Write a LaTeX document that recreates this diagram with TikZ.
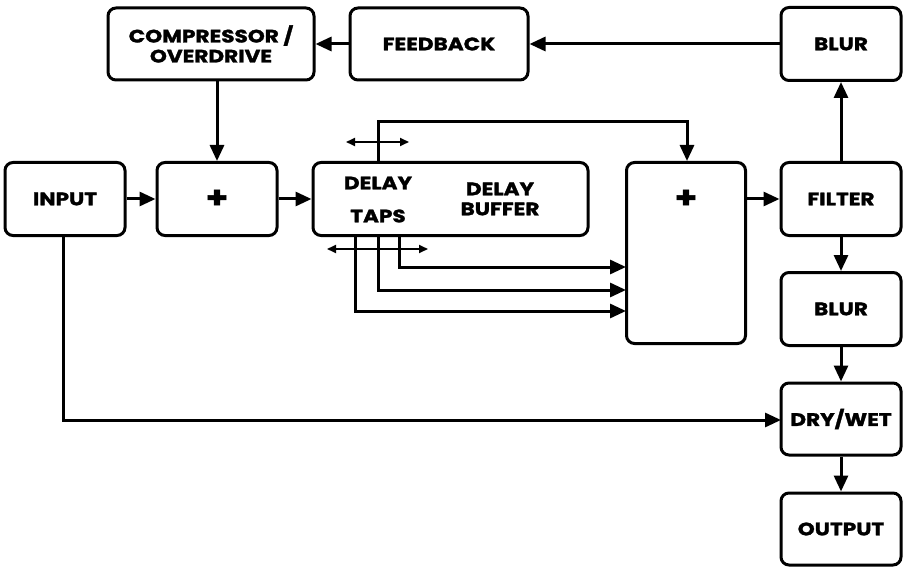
\documentclass[tikz,border=0pt]{standalone}
\usepackage{fontspec}
\setmainfont{Poppins}[BoldFeatures={FakeBold=1.6,FakeStretch=1.2}]
\usetikzlibrary{arrows.meta}
\begin{document}
\begin{tikzpicture}[x=1pt,y=-1pt,
  blk/.style={draw,line width=3pt,rounded corners=8pt,inner sep=0pt,align=center,
    font=\fontsize{18}{20}\selectfont\bfseries},
  lbl/.style={inner sep=0pt,align=center,font=\fontsize{18}{20}\selectfont\bfseries},
  plusl/.style={inner sep=0pt,font=\fontsize{30}{30}\selectfont\bfseries},
  conn/.style={line width=3pt,-{Triangle[length=16pt,width=14pt]}},
  dbl/.style={line width=1.8pt,{Triangle[length=9pt,width=8pt]}-{Triangle[length=9pt,width=8pt]}}]
\useasboundingbox (0,0) rectangle (903,567);
% boxes
\node[blk,minimum width=206pt,minimum height=72pt] (comp) at (211,44) {COMPRESSOR /\\OVERDRIVE};
\node[blk,minimum width=178pt,minimum height=72pt] (fb) at (439,44) {FEEDBACK};
\node[blk,minimum width=120pt,minimum height=73pt] (blur1) at (841,44) {BLUR};
\node[blk,minimum width=120pt,minimum height=73pt] (in) at (65,199) {INPUT};
\node[blk,minimum width=120pt,minimum height=73pt] (add1) at (217,199) {};
\node[plusl] (plus1) at (217,199) {+};
\node[blk,minimum width=275pt,minimum height=73pt] (dly) at (450.5,199) {};
\node[blk,minimum width=119pt,minimum height=181pt] (add2) at (686,253) {};
\node[plusl] (plus2) at (686,199) {+};
\node[blk,minimum width=120pt,minimum height=73pt] (filt) at (841,199) {FILTER};
\node[blk,minimum width=120pt,minimum height=73pt] (blur2) at (841,309) {BLUR};
\node[blk,minimum width=120pt,minimum height=72pt] (dw) at (841,419) {DRY/WET};
\node[blk,minimum width=120pt,minimum height=72pt] (out) at (841,529) {OUTPUT};
% texts inside delay box
\node[lbl] (dl) at (378,183) {DELAY};
\node[lbl] (taps) at (378,216) {TAPS};
\node[lbl] (buf) at (500,199) {DELAY\\BUFFER};
% coordinates
\coordinate (t0) at (378,162);
\coordinate (t0u) at (378,122);
\coordinate (t0r) at (687,122);
\coordinate (b1) at (399,235);
\coordinate (b2) at (378,235);
\coordinate (b3) at (355,235);
\coordinate (e1) at (626,267);
\coordinate (e2) at (626,290);
\coordinate (e3) at (626,311);
\coordinate (inb) at (63,235);
\coordinate (inc) at (63,420);
\coordinate (dwl) at (781,420);
\coordinate (da1) at (346,142);
\coordinate (da2) at (409,142);
\coordinate (db1) at (327,249);
\coordinate (db2) at (428,249);
% connectors
\draw[conn] (blur1.west) -- (fb.east);
\draw[conn] (fb.west) -- (comp.east);
\draw[conn] (comp.south -| add1.north) -- (add1.north);
\draw[conn] (in.east) -- (add1.west);
\draw[conn] (add1.east) -- (dly.west);
\draw[conn] (t0) -- (t0u) -- (t0r) -- (t0r |- add2.north);
\draw[conn] (b1) -- (b1 |- e1) -- (e1);
\draw[conn] (b2) -- (b2 |- e2) -- (e2);
\draw[conn] (b3) -- (b3 |- e3) -- (e3);
\draw[conn] (add2.east |- filt.west) -- (filt.west);
\draw[conn] (filt.north) -- (blur1.south);
\draw[conn] (filt.south) -- (blur2.north);
\draw[conn] (blur2.south) -- (dw.north);
\draw[conn] (dw.south) -- (out.north);
\draw[conn] (inb) -- (inc) -- (dwl);
\draw[dbl] (da1) -- (da2);
\draw[dbl] (db1) -- (db2);
\end{tikzpicture}
\end{document}
